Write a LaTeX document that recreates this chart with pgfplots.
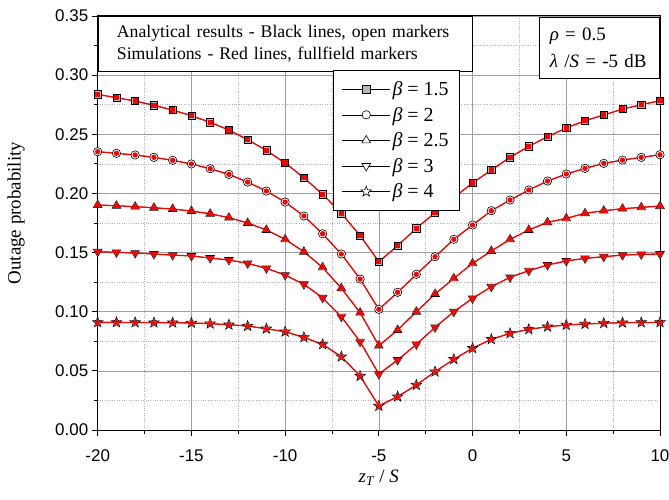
\documentclass[border=0pt]{standalone}
\usepackage{fontspec}
\setmainfont{Liberation Serif}
\newfontfamily\arial{Liberation Sans}
\usepackage{pgfplots}
\usepackage{pgfplotstable}
\pgfplotsset{compat=1.18}

% five-pointed star mark (filled + stroked)
\pgfdeclareplotmark{fivestar}{%
  \pgfpathmoveto{\pgfpointpolar{90}{\pgfplotmarksize}}%
  \pgfpathlineto{\pgfpointpolar{126}{0.42\pgfplotmarksize}}%
  \pgfpathlineto{\pgfpointpolar{162}{\pgfplotmarksize}}%
  \pgfpathlineto{\pgfpointpolar{198}{0.42\pgfplotmarksize}}%
  \pgfpathlineto{\pgfpointpolar{234}{\pgfplotmarksize}}%
  \pgfpathlineto{\pgfpointpolar{270}{0.42\pgfplotmarksize}}%
  \pgfpathlineto{\pgfpointpolar{306}{\pgfplotmarksize}}%
  \pgfpathlineto{\pgfpointpolar{342}{0.42\pgfplotmarksize}}%
  \pgfpathlineto{\pgfpointpolar{18}{\pgfplotmarksize}}%
  \pgfpathlineto{\pgfpointpolar{54}{0.42\pgfplotmarksize}}%
  \pgfpathclose
  \pgfusepathqfillstroke
}

\pgfplotstableread{
x    b15     b2      b25     b3      b4
-20  0.2838  0.2353  0.1902  0.1507  0.0910
-19  0.2809  0.2339  0.1896  0.1502  0.0910
-18  0.2781  0.2325  0.1888  0.1496  0.0909
-17  0.2745  0.2305  0.1879  0.1488  0.0908
-16  0.2705  0.2280  0.1868  0.1479  0.0907
-15  0.2657  0.2249  0.1851  0.1471  0.0905
-14  0.2601  0.2209  0.1828  0.1454  0.0899
-13  0.2536  0.2161  0.1795  0.1437  0.0890
-12  0.2454  0.2096  0.1750  0.1409  0.0879
-11  0.2364  0.2020  0.1691  0.1367  0.0856
-10  0.2257  0.1927  0.1612  0.1310  0.0831
-9   0.2133  0.1809  0.1507  0.1232  0.0783
-8   0.1992  0.1659  0.1375  0.1118  0.0724
-7   0.1832  0.1488  0.1198  0.0958  0.0620
-6   0.1643  0.1276  0.0992  0.0747  0.0456
-5   0.1423  0.1020  0.0713  0.0473  0.0203
-4   0.1558  0.1164  0.0845  0.0592  0.0282
-3   0.1705  0.1316  0.1000  0.0724  0.0380
-2   0.1837  0.1465  0.1150  0.0868  0.0493
-1   0.1965  0.1612  0.1282  0.1000  0.0598
0    0.2088  0.1733  0.1409  0.1113  0.0691
1    0.2198  0.1854  0.1513  0.1211  0.0767
2    0.2305  0.1944  0.1612  0.1291  0.0817
3    0.2398  0.2029  0.1691  0.1347  0.0851
4    0.2480  0.2105  0.1756  0.1395  0.0873
5    0.2553  0.2164  0.1789  0.1429  0.0888
6    0.2615  0.2212  0.1832  0.1451  0.0896
7    0.2663  0.2254  0.1854  0.1465  0.0903
8    0.2713  0.2282  0.1871  0.1479  0.0907
9    0.2750  0.2305  0.1882  0.1485  0.0909
10   0.2784  0.2327  0.1893  0.1488  0.0910
}\data

\pgfplotsset{
  ana/.style={black, line width=0.6pt},
  sim/.style={red, line width=1.3pt, forget plot},
}

\begin{document}
\begin{tikzpicture}
\begin{axis}[
  scale only axis,
  width=562.3bp, height=414bp,
  xmin=-20, xmax=10, ymin=0, ymax=0.35,
  xtick={-20,-15,-10,-5,0,5,10},
  xticklabels={-20,-15,-10,-5,0,5,10},
  ytick={0,0.05,0.1,0.15,0.2,0.25,0.3,0.35},
  yticklabels={0.00,0.05,0.10,0.15,0.20,0.25,0.30,0.35},
  minor x tick num=1, minor y tick num=1,
  tick align=outside, tick pos=left,
  major tick length=6bp, minor tick length=3.5bp,
  tick style={black, line width=0.9pt},
  grid=both,
  major grid style={draw=gray!75, line width=0.7pt},
  minor grid style={draw=gray!60, dotted, line width=0.5pt},
  axis line style={line width=1pt},
  tick label style={font=\arial\fontsize{17}{17}\selectfont},
  x tick label style={yshift=-10bp},
  xlabel={\textit{z}\textsubscript{\textit{T}} / \textit{S}},
  ylabel={Outage probability},
  every axis x label/.style={at={(axis description cs:0.5,-0.127)}, anchor=base, font=\fontsize{19}{19}\selectfont},
  every axis y label/.style={at={(axis description cs:-0.1453,0.524)}, rotate=90, anchor=center, font=\fontsize{19}{19}\selectfont},
  legend style={at={(rel axis cs:0.418,0.869)}, anchor=north west, draw=black, fill=white,
    font=\fontsize{20}{20}\selectfont, row sep=0bp, inner xsep=9bp, inner ysep=6bp,
    nodes={minimum height=25.6bp, inner ysep=0bp}},
  legend cell align=left,
  legend image code/.code={\draw[mark repeat=2,mark phase=2] plot coordinates {(0bp,0bp) (24bp,0bp) (48bp,0bp)};},
]
% analytical: black lines, open markers
\addplot[ana, mark=square*, mark size=3.6pt, mark options={solid, fill=gray!55, line width=0.6pt}] table[x=x,y=b15] {\data};
\addplot[ana, mark=*, mark size=4.2pt, mark options={solid, fill=white, line width=0.6pt}] table[x=x,y=b2] {\data};
\addplot[ana, mark=triangle*, mark size=5pt, mark options={solid, fill=white, line width=0.6pt}] table[x=x,y=b25] {\data};
\addplot[ana, mark=triangle*, mark size=5pt, mark options={solid, fill=white, line width=0.6pt, rotate=180}] table[x=x,y=b3] {\data};
\addplot[ana, mark=fivestar, mark size=5.5pt, mark options={solid, fill=white, line width=0.6pt}] table[x=x,y=b4] {\data};
% simulations: red lines, filled markers
\addplot[sim, mark=square*, mark size=2pt, mark options={solid, fill=red, draw=red}] table[x=x,y=b15] {\data};
\addplot[sim, mark=*, mark size=2pt, mark options={solid, fill=red, draw=red}] table[x=x,y=b2] {\data};
\addplot[sim, mark=triangle*, mark size=3.2pt, mark options={solid, fill=red, draw=red}] table[x=x,y=b25] {\data};
\addplot[sim, mark=triangle*, mark size=3.2pt, mark options={solid, fill=red, draw=red, rotate=180}] table[x=x,y=b3] {\data};
\addplot[sim, mark=fivestar, mark size=3.8pt, mark options={solid, fill=red, draw=red, line width=0.3pt}] table[x=x,y=b4] {\data};
\legend{\textit{β} = 1.5, \textit{β} = 2, \textit{β} = 2.5, \textit{β} = 3, \textit{β} = 4}

\node[draw=black, fill=white, anchor=north west, align=left, inner xsep=19bp, inner ysep=0bp,
  text width=336bp, minimum height=55bp, font=\fontsize{17.8}{22}\selectfont]
  at (rel axis cs:0,1) {Analytical results - Black lines, open markers\\Simulations - Red lines, fullfield markers};
\node[draw=black, fill=white, anchor=north east, align=left, inner xsep=11bp, inner ysep=0bp,
  text width=98bp, minimum height=61bp, font=\fontsize{19}{26.5}\selectfont]
  at ([xshift=-1bp,yshift=-1.3bp]rel axis cs:1,1) {\textit{ρ} = 0.5\\\textit{λ} /\textit{S} = -5 dB};
\end{axis}
\pgfresetboundingbox
\path ([xshift=-97.7bp,yshift=-70bp]current axis.south west) rectangle ([xshift=9bp,yshift=16bp]current axis.north east);
\end{tikzpicture}
\end{document}
